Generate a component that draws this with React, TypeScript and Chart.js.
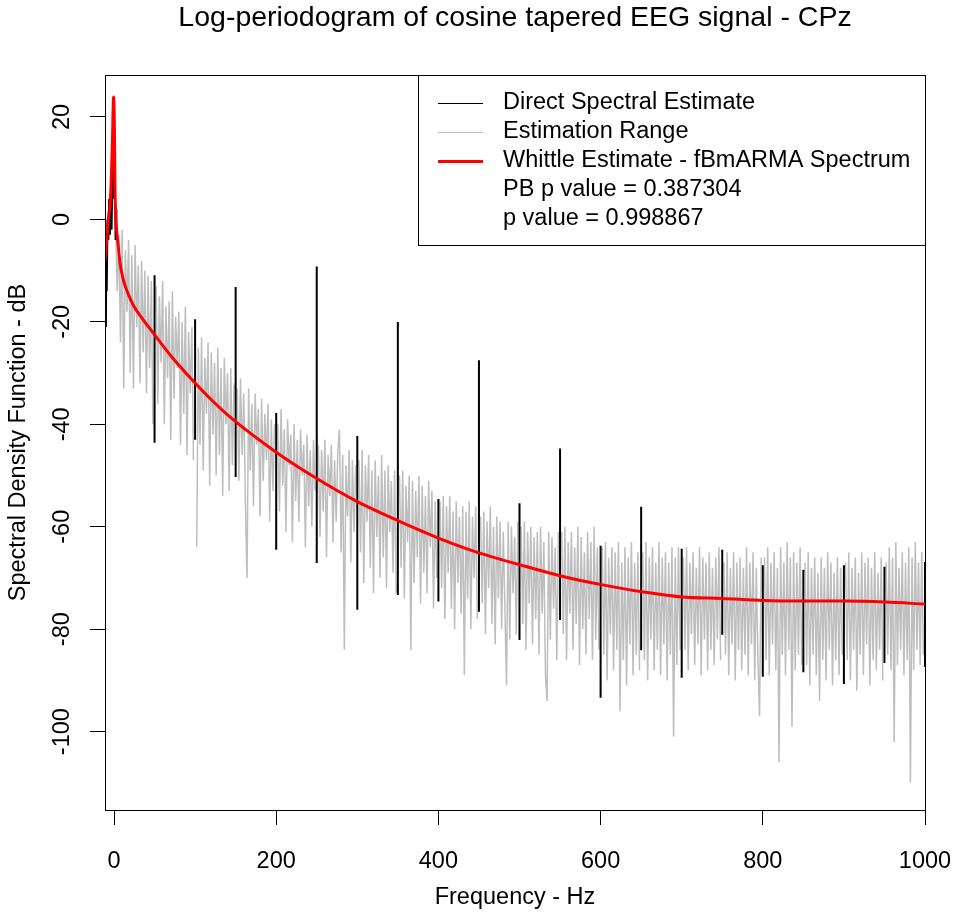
import React, { useEffect, useRef } from "react";
import { Chart, registerables } from "chart.js";

Chart.register(...registerables);

const TITLE = "Log-periodogram of cosine tapered EEG signal - CPz";
const X_TITLE = "Frequency - Hz";
const Y_TITLE = "Spectral Density Function - dB";
const X_TICKS = [0, 200, 400, 600, 800, 1000];
const Y_TICKS = [-100, -80, -60, -40, -20, 0, 20];
const X_MIN = -11.1;
const X_MAX = 1000;
const Y_MIN = -115.3;
const Y_MAX = 28.2;

const LEGEND_SERIES = ["Direct Spectral Estimate", "Estimation Range", "Whittle Estimate - fBmARMA Spectrum"];
const LEGEND_COLORS = ["#000000", "#bebebe", "#ff0000"];
const LEGEND_NOTES = ["PB p value = 0.387304", "p value = 0.998867"];

// Direct spectral estimate around 0 Hz
const LOW_FREQ = [-10.5, -10, -9.5, -9, -8, -7, -6, -5, -4, -3, -2, -1, 0, 1, 2, 3];
const LOW_DB = [-10, -21, -6, -14, 0, -4, 4, -3, 5, -2, 9, 4, 12, 7, -4, 2];

// Direct spectral estimate at mains harmonics (excluded from estimation range)
const HARMONIC_FREQ = [50, 100, 150, 200, 250, 300, 350, 400, 450, 500, 550, 600, 650, 700, 750, 800, 850, 900, 950, 1000];
const HARMONIC_TOP = [-10.9, -19.5, -13.2, -37.8, -9.2, -42.3, -20.0, -54.6, -27.5, -55.4, -44.7, -63.7, -56.1, -64.3, -64.5, -67.5, -68.4, -67.5, -67.8, -66.9];
const HARMONIC_BOTTOM = [-43.6, -43.0, -50.3, -64.5, -67.1, -76.2, -73.3, -74.6, -76.6, -82.1, -78.2, -93.4, -84.1, -89.5, -81.1, -89.3, -88.4, -90.7, -86.6, -87.4];

// Estimation range: 50-Hz bands, values at 2-Hz offsets inside each band
const BAND_START = [0, 50, 100, 150, 200, 250, 300, 350, 400, 450, 500, 550, 600, 650, 700, 750, 800, 850, 900, 950];
const BAND_OFFSETS = [2, 4, 6, 8, 10, 12, 14, 16, 18, 20, 22, 24, 26, 28, 30, 32, 34, 36, 38, 40, 42, 44, 46, 48];
const GREY_DB = [
  [-1, -14, -3, -24, -2, -33, -6, -18, -4, -30, -7, -33, -5, -21, -9, -32, -8, -26, -10, -34, -11, -29, -12, -40],
  [-13, -36, -15, -28, -12, -40, -17, -31, -16, -43, -14, -35, -19, -29, -18, -44, -20, -38, -17, -46, -22, -34, -21, -47],
  [-64, -25, -44, -23, -49, -27, -38, -24, -52, -26, -42, -28, -50, -25, -46, -29, -54, -27, -40, -30, -53, -29, -48, -32],
  [-33, -51, -31, -46, -34, -55, -70, -33, -49, -36, -56, -34, -44, -37, -58, -35, -51, -38, -47, -36, -59, -39, -53, -40],
  [-40, -57, -37, -52, -41, -61, -39, -48, -42, -63, -40, -55, -43, -59, -41, -50, -44, -64, -42, -56, -45, -60, -43, -53],
  [-44, -62, -45, -57, -43, -66, -46, -54, -44, -63, -47, -59, -45, -41, -65, -46, -84, -48, -58, -45, -67, -47, -61, -48],
  [-47, -65, -45, -71, -48, -59, -46, -68, -49, -73, -47, -62, -50, -70, -46, -66, -49, -72, -48, -61, -51, -69, -49, -73],
  [-50, -68, -49, -74, -52, -63, -50, -84, -51, -71, -53, -66, -50, -75, -52, -69, -54, -73, -51, -64, -53, -76, -55, -70],
  [-55, -72, -54, -78, -56, -69, -54, -76, -57, -80, -55, -71, -58, -77, -56, -89, -57, -74, -55, -80, -58, -70, -56, -78],
  [-58, -75, -57, -81, -59, -72, -56, -79, -60, -83, -58, -74, -59, -80, -61, -76, -91, -59, -82, -60, -73, -62, -81, -59],
  [-60, -79, -59, -84, -61, -75, -60, -83, -62, -78, -61, -85, -60, -77, -63, -89, -94, -61, -82, -62, -76, -64, -86, -61],
  [-61, -81, -60, -86, -63, -77, -61, -84, -64, -79, -60, -87, -62, -80, -65, -85, -61, -78, -63, -86, -60, -82, -64, -84],
  [-64, -85, -63, -90, -66, -81, -64, -88, -65, -84, -63, -96, -67, -86, -64, -91, -66, -83, -63, -89, -67, -85, -65, -88],
  [-65, -86, -63, -90, -66, -82, -64, -88, -67, -84, -63, -89, -66, -83, -65, -90, -67, -85, -64, -101, -66, -87, -64, -84],
  [-66, -84, -64, -88, -67, -81, -65, -87, -68, -83, -64, -89, -66, -82, -67, -88, -65, -84, -68, -87, -66, -82, -64, -86],
  [-67, -85, -65, -89, -68, -83, -65, -90, -67, -84, -66, -88, -68, -85, -64, -89, -67, -83, -65, -90, -68, -86, -97, -66],
  [-66, -86, -64, -89, -67, -83, -65, -88, -68, -106, -64, -85, -67, -89, -63, -84, -66, -99, -65, -88, -67, -85, -64, -87],
  [-67, -87, -65, -91, -68, -85, -66, -89, -69, -94, -66, -86, -68, -90, -65, -84, -67, -91, -69, -86, -66, -89, -68, -85],
  [-67, -86, -65, -90, -68, -84, -66, -92, -69, -85, -65, -89, -67, -83, -66, -91, -68, -86, -65, -88, -69, -84, -66, -90],
  [-67, -85, -64, -88, -66, -102, -63, -87, -68, -84, -65, -89, -67, -86, -64, -110, -66, -88, -63, -84, -67, -87, -65, -85],
];

// Whittle estimate (fBmARMA spectrum)
const WHITTLE_FREQ = [-11, -7, -4, -2, -0.5, 0.5, 1.2, 2.5, 5.4, 7.4, 11.5, 17.7, 24, 36, 48, 70, 98, 120, 147, 196, 246, 300, 350, 400, 450, 500, 551, 601, 651, 700, 750, 800, 850, 900, 951, 1000];
const WHITTLE_DB = [-7.9, -0.1, 5.1, 14.9, 23.9, 18, 6.3, -0.1, -5.4, -8.5, -11.8, -14.6, -16.8, -19.6, -22.1, -26.6, -31.6, -35.2, -39.1, -45, -50.2, -55.1, -58.8, -62.2, -65.1, -67.4, -69.6, -71.3, -72.7, -73.7, -74.0, -74.4, -74.5, -74.5, -74.7, -75.1];

const FONT_FAMILY = "'Liberation Sans', Arial, Helvetica, sans-serif";
const BASE_SIZE = 23.5;
const TITLE_SIZE = 28.5;

type Pt = { x: number; y: number | null };

function buildGrey(): Pt[] {
  const pts: Pt[] = [];
  GREY_DB.forEach((row, k) => {
    row.forEach((v, j) => pts.push({ x: BAND_START[k] + BAND_OFFSETS[j], y: v }));
    pts.push({ x: HARMONIC_FREQ[k], y: null });
  });
  return pts;
}

function buildBlack(): Pt[] {
  const pts: Pt[] = LOW_FREQ.map((f, i) => ({ x: f, y: LOW_DB[i] }));
  HARMONIC_FREQ.forEach((f, i) => {
    pts.push({ x: f - 1, y: null });
    pts.push({ x: f, y: HARMONIC_BOTTOM[i] });
    pts.push({ x: f, y: HARMONIC_TOP[i] });
  });
  return pts;
}

function buildRed(): Pt[] {
  return WHITTLE_FREQ.map((f, i) => ({ x: f, y: WHITTLE_DB[i] }));
}

const frameAndLegend = {
  id: "frameAndLegend",
  afterLayout(chart: any) {
    // centre the main title over the plotting region, as R does
    const tb = chart.titleBlock;
    if (tb) {
      tb.left = chart.chartArea.left;
      tb.right = chart.chartArea.right;
      tb.width = tb.right - tb.left;
    }
  },
  afterDatasetsDraw(chart: any) {
    const { ctx, chartArea } = chart;
    const { left, top, right, bottom } = chartArea;
    ctx.save();
    ctx.strokeStyle = "#000";
    ctx.lineWidth = 1;
    ctx.strokeRect(left + 0.5, top + 0.5, right - left, bottom - top);

    // legend box (top-right inside the plot)
    const boxW = 507;
    const boxH = 170;
    const bx = right - boxW;
    const by = top;
    ctx.fillStyle = "#ffffff";
    ctx.fillRect(bx, by, boxW, boxH);
    ctx.strokeRect(bx + 0.5, by + 0.5, boxW, boxH);

    const rowY0 = by + 28;
    const rowGap = 28.8;
    ctx.font = `${BASE_SIZE}px ${FONT_FAMILY}`;
    ctx.textBaseline = "middle";
    ctx.textAlign = "left";
    LEGEND_SERIES.forEach((label, i) => {
      const y = rowY0 + i * rowGap;
      ctx.strokeStyle = LEGEND_COLORS[i];
      ctx.lineWidth = i === 2 ? 3 : 1;
      ctx.beginPath();
      ctx.moveTo(bx + 20, Math.round(y) + 0.5);
      ctx.lineTo(bx + 65, Math.round(y) + 0.5);
      ctx.stroke();
      ctx.fillStyle = "#000";
      ctx.fillText(label, bx + 85, y);
    });
    LEGEND_NOTES.forEach((label, i) => {
      const y = rowY0 + (LEGEND_SERIES.length + i) * rowGap;
      ctx.fillStyle = "#000";
      ctx.fillText(label, bx + 85, y);
    });
    ctx.restore();
  },
};

export default function App() {
  const canvasRef = useRef<HTMLCanvasElement | null>(null);

  useEffect(() => {
    if (!canvasRef.current) return;
    const font = { family: FONT_FAMILY, size: BASE_SIZE };
    const chart = new Chart(canvasRef.current, {
      type: "line",
      data: {
        datasets: [
          {
            label: LEGEND_SERIES[2],
            data: buildRed(),
            borderColor: "#ff0000",
            borderWidth: 3,
            pointRadius: 0,
            cubicInterpolationMode: "monotone",
            order: 0,
          },
          {
            label: LEGEND_SERIES[0],
            data: buildBlack(),
            borderColor: "#000000",
            borderWidth: 2,
            pointRadius: 0,
            spanGaps: false,
            tension: 0,
            order: 1,
          },
          {
            label: LEGEND_SERIES[1],
            data: buildGrey(),
            borderColor: "#bebebe",
            borderWidth: 1.5,
            pointRadius: 0,
            spanGaps: false,
            tension: 0,
            order: 2,
          },
        ],
      },
      options: {
        responsive: false,
        animation: false,
        devicePixelRatio: 1,
        layout: { padding: { left: 0, right: 30, top: 0, bottom: 0 } },
        plugins: {
          legend: { display: false },
          tooltip: { enabled: false },
          title: {
            display: true,
            text: TITLE,
            color: "#000",
            font: { family: FONT_FAMILY, size: TITLE_SIZE, weight: "normal" },
            padding: { top: 1, bottom: 39.8 },
          },
        },
        scales: {
          x: {
            type: "linear",
            min: X_MIN,
            max: X_MAX,
            afterBuildTicks: (s: any) => {
              s.ticks = X_TICKS.map((v) => ({ value: v }));
            },
            afterFit: (s: any) => {
              s.height = 102;
              s.paddingLeft = 0;
              s.paddingRight = 0;
            },
            ticks: { color: "#000", font, padding: 22, maxRotation: 0, autoSkip: false, callback: (v: any) => String(v) },
            grid: { drawOnChartArea: false, drawTicks: true, tickLength: 15, color: "#000", tickColor: "#000", tickWidth: 1 },
            border: { display: false },
            title: { display: true, text: X_TITLE, color: "#000", font, padding: { top: 0, bottom: 0 } },
          },
          y: {
            type: "linear",
            min: Y_MIN,
            max: Y_MAX,
            afterBuildTicks: (s: any) => {
              s.ticks = Y_TICKS.map((v) => ({ value: v }));
            },
            afterFit: (s: any) => {
              s.width = 105;
              s.paddingTop = 0;
              s.paddingBottom = 0;
            },
            ticks: { color: "#000", font, padding: 4, minRotation: 90, maxRotation: 90, crossAlign: "center", autoSkip: false, callback: (v: any) => String(v) },
            grid: { drawOnChartArea: false, drawTicks: true, tickLength: 15, color: "#000", tickColor: "#000", tickWidth: 1 },
            border: { display: false },
            title: { display: true, text: Y_TITLE, color: "#000", font, padding: { top: 4, bottom: 0 } },
          },
        },
      },
      plugins: [frameAndLegend],
    } as any);
    return () => chart.destroy();
  }, []);

  return (
    <div style={{ position: "absolute", left: 0, top: 0, width: 955, height: 912, background: "#fff" }}>
      <canvas ref={canvasRef} width={955} height={912} style={{ display: "block" }} />
    </div>
  );
}
